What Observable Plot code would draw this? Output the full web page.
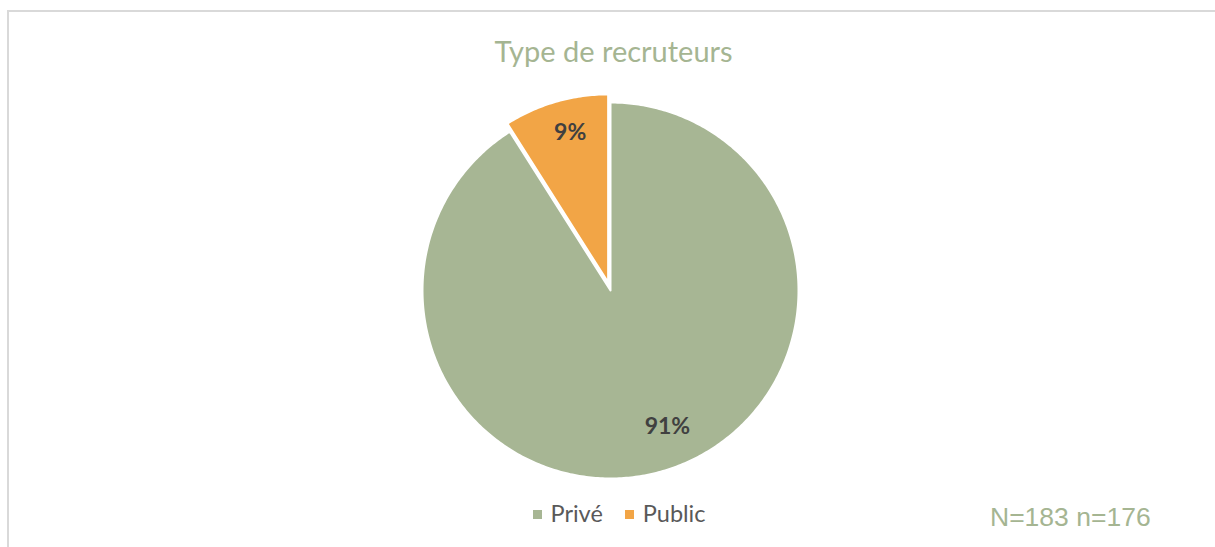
<!DOCTYPE html>
<html>
<head>
<meta charset="utf-8">
<script src="https://cdn.jsdelivr.net/npm/d3@7"></script>
<script src="https://cdn.jsdelivr.net/npm/@observablehq/plot@0.6"></script>
<style>
  html, body { margin: 0; padding: 0; background: #fff; }
  #wrap { position: relative; width: 1215px; height: 547px; overflow: hidden; }
  #frame { position: absolute; left: 7px; top: 10px; width: 1300px; height: 700px; border: 2px solid #D9D9D9; box-sizing: border-box; }
  #title { position: absolute; left: 0; width: 1227px; top: 33px; text-align: center; font-family: Lato, "Open Sans", sans-serif; font-size: 29px; color: #A5B592; }
  #pie { position: absolute; left: 400px; top: 80px; }
  #legend { position: absolute; left: 0; width: 1238px; top: 499px; text-align: center; font-family: Lato, "Open Sans", sans-serif; font-size: 23.5px; color: #595959; }
  #legend span.item { display: inline-block; margin: 0 11px; }
  #legend span.sw { display: inline-block; width: 9px; height: 9px; margin-right: 9px; vertical-align: 3px; }
  #note { position: absolute; left: 990px; top: 502px; font-family: "Liberation Sans", Arial, sans-serif; font-size: 26.5px; color: #A5B592; }
</style>
</head>
<body>
<div id="wrap">
  <div id="frame"></div>
  <div id="title">Type de recruteurs</div>
  <div id="pie"></div>
  <div id="legend"></div>
  <div id="note">N=183 n=176</div>
</div>
<script>
const categories = ["Privé", "Public"];
const values = [91, 9];
const labels = ["91%", "9%"];
const colors = ["#A7B694", "#F2A546"];
const explode = [0, 0.045];

const size = 420, radiusPx = 188;
const R = size / 2 / radiusPx;

const pie = d3.pie().sort(null).value(d => d.value).startAngle(0).endAngle(2 * Math.PI);
const data = categories.map((c, i) => ({category: c, value: values[i], label: labels[i], color: colors[i], explode: explode[i]}));
const arcs = pie(data);

const pts = [];
const labelPts = [];
arcs.forEach(a => {
  const d = a.data;
  const mid = (a.startAngle + a.endAngle) / 2;
  const ox = d.explode * Math.sin(mid), oy = d.explode * Math.cos(mid);
  pts.push({category: d.category, x: ox, y: oy});
  const n = Math.max(8, Math.ceil((a.endAngle - a.startAngle) * 80));
  for (let k = 0; k <= n; k++) {
    const t = a.startAngle + (a.endAngle - a.startAngle) * k / n;
    pts.push({category: d.category, x: ox + Math.sin(t), y: oy + Math.cos(t)});
  }
  pts.push({category: d.category, x: ox, y: oy});
  const lr = 0.8;
  labelPts.push({label: d.label, x: ox + lr * Math.sin(mid), y: oy + lr * Math.cos(mid), category: d.category});
});

const chart = Plot.plot({
  width: size, height: size,
  margin: 0,
  x: {domain: [-R, R], axis: null},
  y: {domain: [-R, R], axis: null},
  color: {domain: categories, range: colors},
  marks: [
    Plot.line(pts, {x: "x", y: "y", z: "category", fill: "category", stroke: "white", strokeWidth: 2, curve: "linear"}),
    Plot.text(labelPts.filter(d => d.category === "Privé"), {x: "x", y: "y", text: "label", fill: "#404040", fontSize: 23, fontWeight: "bold", fontFamily: "Lato, 'Open Sans', sans-serif", dx: 15, dy: -8}),
    Plot.text(labelPts.filter(d => d.category === "Public"), {x: "x", y: "y", text: "label", fill: "#404040", fontSize: 23, fontWeight: "bold", fontFamily: "Lato, 'Open Sans', sans-serif", dx: 4, dy: -5})
  ]
});
document.getElementById("pie").appendChild(chart);

const legend = document.getElementById("legend");
categories.forEach((c, i) => {
  const item = document.createElement("span");
  item.className = "item";
  const sw = document.createElement("span");
  sw.className = "sw";
  sw.style.background = colors[i];
  item.appendChild(sw);
  item.appendChild(document.createTextNode(c));
  legend.appendChild(item);
});
</script>
</body>
</html>
